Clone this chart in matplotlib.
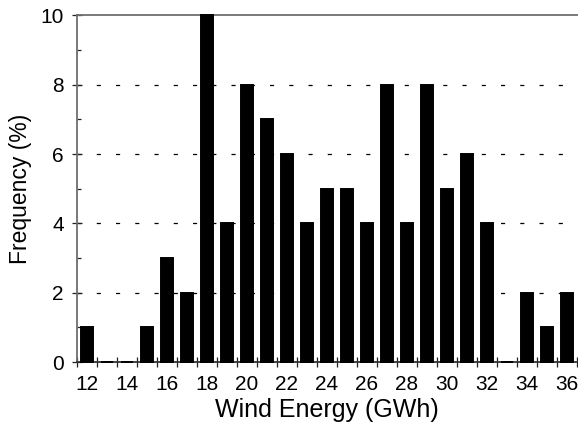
import numpy as np
import matplotlib
matplotlib.use("Agg")
import matplotlib.pyplot as plt
from matplotlib.ticker import MultipleLocator, FixedLocator

plt.rcParams['font.family'] = ['Liberation Sans', 'DejaVu Sans']

# hourly wind energy bins (GWh) and their share of the time (%)
energy = [12, 13, 14, 15, 16, 17, 18, 19, 20, 21, 22, 23, 24,
          25, 26, 27, 28, 29, 30, 31, 32, 33, 34, 35, 36]
freq = [1, 0, 0, 1, 3, 2, 10, 4, 8, 7, 6, 4, 5,
        5, 4, 8, 4, 8, 5, 6, 4, 0, 2, 1, 2]
tick_labels = [12, 14, 16, 18, 20, 22, 24, 26, 28, 30, 32, 34, 36]

fig = plt.figure(figsize=(5.78, 4.23), dpi=100)
W, H = 578, 423
x0, x1 = 77, 577
y0, y1 = 362, 15.5
ax = fig.add_axes([x0 / W, (H - y0) / H, (x1 - x0) / W, (y0 - y1) / H])

# zero bins still leave a short stroke on the axis, so no clipping
ax.bar(energy, freq, width=0.6, color='black', edgecolor='black',
       linewidth=1.4, zorder=3, clip_on=False)

ax.set_xlim(11.5, 36.5)
ax.set_ylim(0, 10)

# dashed guides at the labelled heights
for g in [2, 4, 6, 8]:
    ax.axhline(g, color='black', lw=0.9, dashes=(3.3, 12.1), zorder=1)

# ticks sit on the bin edges, labels on every second bin
ax.xaxis.set_major_locator(FixedLocator(np.arange(11.5, 37, 1)))
ax.xaxis.set_major_formatter(plt.NullFormatter())
ax.xaxis.set_minor_locator(FixedLocator(tick_labels))
ax.xaxis.set_minor_formatter(plt.FixedFormatter([str(t) for t in tick_labels]))
ax.tick_params(axis='x', which='major', direction='inout', length=6.5,
               width=0.9, color='#222222')
ax.tick_params(axis='x', which='minor', length=0, pad=9, labelsize=15)

ax.yaxis.set_major_locator(MultipleLocator(2))
ax.yaxis.set_minor_locator(MultipleLocator(1))
ax.tick_params(axis='y', which='major', direction='inout', length=7,
               width=0.9, color='#222222', labelsize=15, pad=6)
ax.tick_params(axis='y', which='minor', direction='in', length=3,
               width=0.9, color='#222222')

for side in ['left', 'top', 'bottom']:
    ax.spines[side].set_color('#6e6e6e')
    ax.spines[side].set_linewidth(1.3)
ax.spines['bottom'].set_color('#333333')
ax.spines['right'].set_visible(False)

ax.set_xlabel('Wind Energy (GWh)', fontsize=18, labelpad=3)
ax.set_ylabel('Frequency (%)', fontsize=16.5, labelpad=6)

fig.savefig('out.png', dpi=100)
